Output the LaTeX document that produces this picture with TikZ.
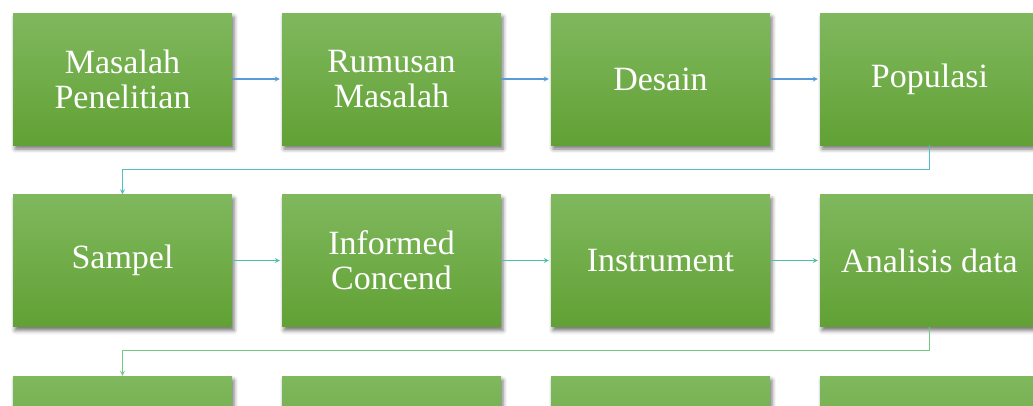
\documentclass[tikz,border=0pt]{standalone}
\usepackage{fontspec}
\setmainfont{Liberation Serif}
\usetikzlibrary{shadows.blur}

\definecolor{boxtop}{RGB}{128,184,94}
\definecolor{boxbottom}{RGB}{97,161,52}
\definecolor{linkone}{RGB}{91,155,213}
\definecolor{turnone}{RGB}{80,190,195}
\definecolor{linktwo}{RGB}{78,192,170}
\definecolor{turntwo}{RGB}{112,202,132}

\begin{document}
\begin{tikzpicture}[x=1pt,y=-1pt,>=stealth]
    \tikzstyle{stepbox}=[rectangle,minimum width=219pt,minimum height=132pt,inner sep=0pt,
        top color=boxtop,bottom color=boxbottom,text=white,align=center,
        font=\fontsize{34}{35}\selectfont,
        blur shadow={shadow xshift=2pt,shadow yshift=-4pt,shadow blur radius=4pt,shadow opacity=55}]
    \tikzstyle{link}=[->,line width=1.2pt,shorten >=2pt]

    \useasboundingbox (0,0) rectangle (1033,405);
    \clip (0,0) rectangle (1033,405);

    % First row of steps
    \foreach \name/\txt in {1/{Masalah\\Penelitian},2/{Rumusan\\Masalah},3/Desain,4/Populasi}
        \node[stepbox] (A-\name) at (122.5+269*\name-269,79) {\txt};

    % Second row of steps
    \foreach \name/\txt in {1/Sampel,2/{Informed\\Concend},3/Instrument,4/{Analisis data}}
        \node[stepbox] (B-\name) at (122.5+269*\name-269,260.5) {\txt};

    % Third row, only its top shows
    \foreach \name in {1,...,4}
        \node[stepbox] (C-\name) at (122.5+269*\name-269,442) {};

    % Connect the steps of each row
    \foreach \source/\dest in {1/2,2/3,3/4}
        \draw[link,linkone] (A-\source) -- (A-\dest);
    \foreach \source/\dest in {1/2,2/3,3/4}
        \draw[link,linktwo] (B-\source) -- (B-\dest);

    % From the end of a row to the start of the next
    \draw[link,turnone,shorten >=0pt] (A-4.south) -- ++(0,24) -| (B-1.north);
    \draw[link,turntwo,shorten >=0pt] (B-4.south) -- ++(0,24) -| (C-1.north);
\end{tikzpicture}
\end{document}
